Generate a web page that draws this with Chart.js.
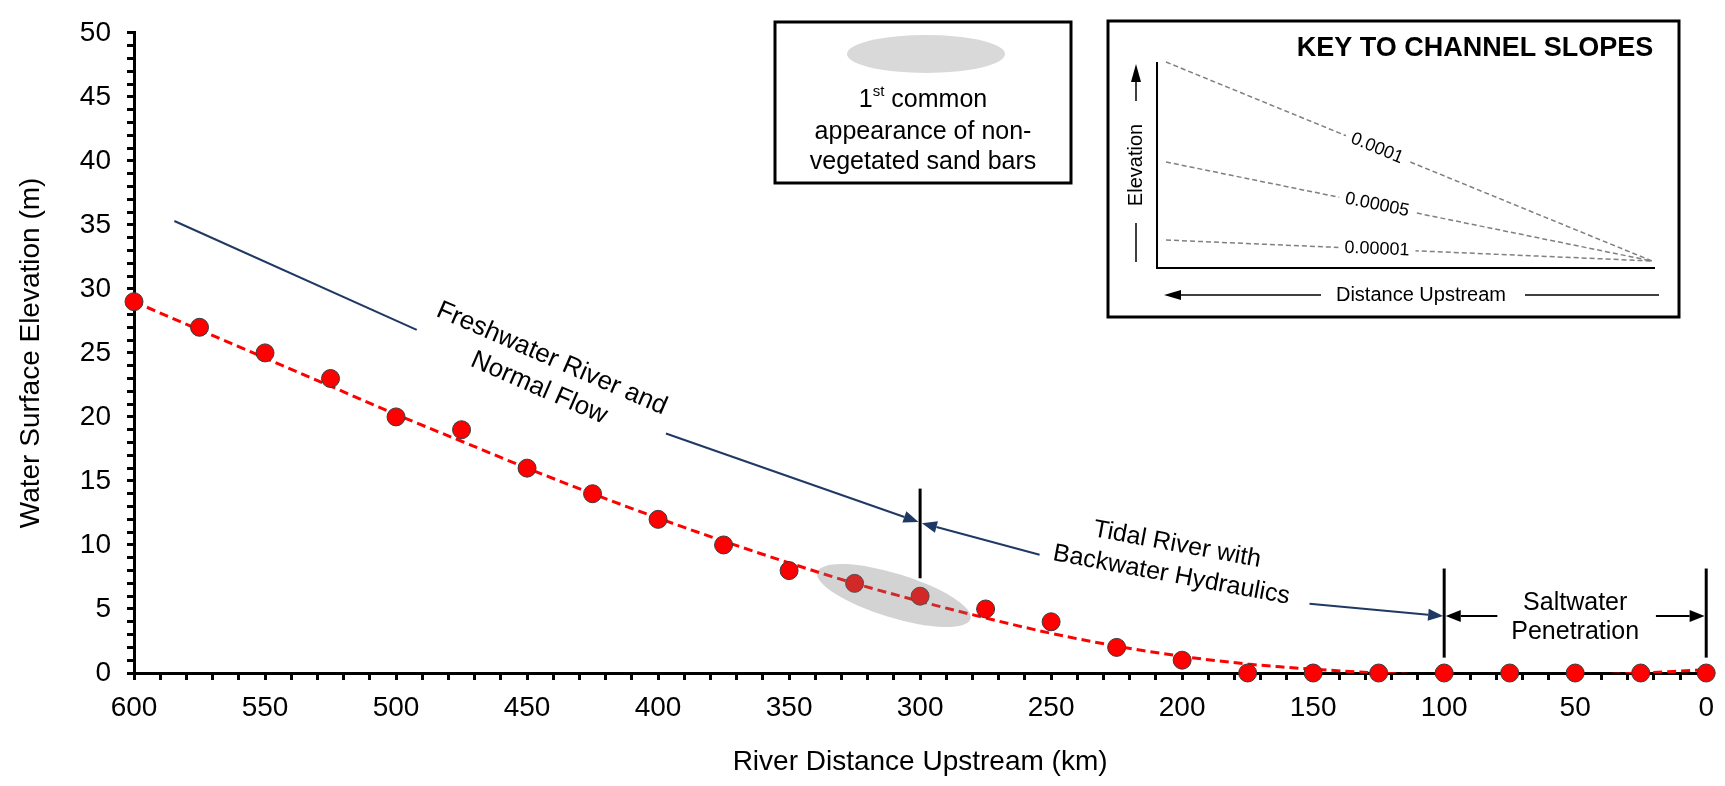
<!DOCTYPE html>
<html>
<head>
<meta charset="utf-8">
<script src="https://cdn.jsdelivr.net/npm/chart.js@4.4.1/dist/chart.umd.min.js"></script>
<style>
  html, body { margin: 0; padding: 0; background: #fff; }
  #wrap { width: 1725px; height: 786px; position: relative; }
</style>
</head>
<body>
<div id="wrap"><canvas id="chart"></canvas></div>
<script>
// values
const distanceKm = [600, 575, 550, 525, 500, 475, 450, 425, 400, 375, 350, 325, 300,
                    275, 250, 225, 200, 175, 150, 125, 100, 75, 50, 25, 0];
const elevationM = [29, 27, 25, 23, 20, 19, 16, 14, 12, 10, 8, 7, 6,
                    5, 4, 2, 1, 0, 0, 0, 0, 0, 0, 0, 0];
// dashed red trend line, read at the same stations
const trendM = [29.0, 26.8, 24.6, 22.4, 20.2, 18.1, 16.0, 14.0, 12.1, 10.3, 8.6, 7.0, 5.6,
                4.3, 3.1, 2.1, 1.3, 0.7, 0.3, 0.0, -0.2, -0.25, -0.2, 0.0, 0.25];
const xTickLabels = [0, 50, 100, 150, 200, 250, 300, 350, 400, 450, 500, 550, 600];
const yTickLabels = [0, 5, 10, 15, 20, 25, 30, 35, 40, 45, 50];

const FONT = "'Liberation Sans', Arial, sans-serif";
const NAVY = '#1F3864';

function arrow(ctx, x1, y1, x2, y2, color, width, headLen, headHalf) {
  const ang = Math.atan2(y2 - y1, x2 - x1);
  const bx = x2 - headLen * Math.cos(ang), by = y2 - headLen * Math.sin(ang);
  ctx.save();
  ctx.strokeStyle = color; ctx.fillStyle = color; ctx.lineWidth = width;
  ctx.beginPath(); ctx.moveTo(x1, y1); ctx.lineTo(bx, by); ctx.stroke();
  ctx.beginPath();
  ctx.moveTo(x2, y2);
  ctx.lineTo(bx + headHalf * Math.sin(ang), by - headHalf * Math.cos(ang));
  ctx.lineTo(bx - headHalf * Math.sin(ang), by + headHalf * Math.cos(ang));
  ctx.closePath(); ctx.fill();
  ctx.restore();
}

function line(ctx, x1, y1, x2, y2, color, width, dash) {
  ctx.save();
  ctx.strokeStyle = color; ctx.lineWidth = width;
  ctx.setLineDash(dash || []);
  ctx.beginPath(); ctx.moveTo(x1, y1); ctx.lineTo(x2, y2); ctx.stroke();
  ctx.restore();
}

function textBlock(ctx, lines, cx, cy, deg, font, lh) {
  ctx.save();
  ctx.translate(cx, cy); ctx.rotate(deg * Math.PI / 180);
  ctx.font = font; ctx.fillStyle = '#000';
  ctx.textAlign = 'center'; ctx.textBaseline = 'middle';
  lines.forEach((t, i) => ctx.fillText(t, 0, (i - (lines.length - 1) / 2) * lh));
  ctx.restore();
}

// notes drawn on the plot, anchored to data values
const riverNotes = {
  id: 'riverNotes',
  afterDatasetsDraw(chart) {
    const { ctx, scales: { x, y } } = chart;
    const X = v => x.getPixelForValue(v), Y = v => y.getPixelForValue(v);

    // sand bar ellipse over the 325/300 km points
    ctx.save();
    ctx.fillStyle = 'rgba(120,120,120,0.33)';
    ctx.beginPath();
    ctx.ellipse(X(310), Y(6.05), 80, 22, 17 * Math.PI / 180, 0, Math.PI * 2);
    ctx.fill();
    ctx.restore();

    // freshwater reach
    line(ctx, X(584.6), Y(35.3), X(492.1), Y(26.8), NAVY, 2);
    arrow(ctx, X(397), Y(18.7), X(300.6), Y(11.8), NAVY, 2, 15, 6);
    textBlock(ctx, ['Freshwater River and', 'Normal Flow'], X(443), Y(23.4), 23.5,
      '26px ' + FONT, 32);

    // boundary at 300 km
    line(ctx, X(300), Y(14.4), X(300), Y(7.4), '#000', 3);

    // tidal reach
    arrow(ctx, X(254.4), Y(9.24), X(299.3), Y(11.7), NAVY, 2, 15, 6);
    textBlock(ctx, ['Tidal River with', 'Backwater Hydraulics'], X(203), Y(8.83), 10.5,
      '25px ' + FONT, 31);
    arrow(ctx, X(151.4), Y(5.4), X(100.4), Y(4.45), NAVY, 2, 15, 6);

    // saltwater reach
    line(ctx, X(100), Y(8.16), X(100), Y(1.2), '#000', 3);
    line(ctx, X(0), Y(8.16), X(0), Y(1.2), '#000', 3);
    arrow(ctx, X(79.7), Y(4.45), X(99.4), Y(4.45), '#000', 2, 15, 6);
    arrow(ctx, X(19.2), Y(4.45), X(0.6), Y(4.45), '#000', 2, 15, 6);
    textBlock(ctx, ['Saltwater', 'Penetration'], X(50), Y(4.34), 0, '25px ' + FONT, 29);
  },
  afterDraw(chart) {
    const ctx = chart.ctx;

    // legend box for the sand bar ellipse
    ctx.save();
    ctx.fillStyle = '#fff';
    ctx.fillRect(775, 22, 296, 161);
    ctx.strokeStyle = '#000'; ctx.lineWidth = 3;
    ctx.strokeRect(775, 22, 296, 161);
    ctx.fillStyle = '#D9D9D9';
    ctx.beginPath(); ctx.ellipse(926, 54, 79, 19, 0, 0, Math.PI * 2); ctx.fill();
    ctx.fillStyle = '#000';
    ctx.textBaseline = 'middle';
    // "1st common" with superscript
    ctx.font = '25px ' + FONT;
    const w1 = ctx.measureText('1').width, w3 = ctx.measureText(' common').width;
    ctx.font = '15px ' + FONT;
    const w2 = ctx.measureText('st').width;
    const sx = 923 - (w1 + w2 + w3) / 2;
    ctx.textAlign = 'left';
    ctx.font = '25px ' + FONT; ctx.fillText('1', sx, 100);
    ctx.font = '15px ' + FONT; ctx.fillText('st', sx + w1, 92);
    ctx.font = '25px ' + FONT; ctx.fillText(' common', sx + w1 + w2, 100);
    ctx.textAlign = 'center';
    ctx.fillText('appearance of non-', 923, 132);
    ctx.fillText('vegetated sand bars', 923, 162);
    ctx.restore();

    // key to channel slopes
    ctx.save();
    ctx.fillStyle = '#fff';
    ctx.fillRect(1108, 21, 571, 296);
    ctx.strokeStyle = '#000'; ctx.lineWidth = 3;
    ctx.strokeRect(1108, 21, 571, 296);
    ctx.fillStyle = '#000';
    ctx.font = 'bold 27px ' + FONT;
    ctx.textAlign = 'center'; ctx.textBaseline = 'middle';
    ctx.fillText('KEY TO CHANNEL SLOPES', 1475, 49);
    ctx.restore();

    line(ctx, 1157, 62, 1157, 269, '#000', 2);
    line(ctx, 1156, 268, 1655, 268, '#000', 2);

    const slopes = [
      { label: '0.0001', y0: 62 },
      { label: '0.00005', y0: 162 },
      { label: '0.00001', y0: 240 }
    ];
    const sx0 = 1166, ex = 1652, ey = 261, lx = 1377;
    slopes.forEach(s => {
      line(ctx, sx0, s.y0, ex, ey, '#808080', 1.5, [5, 3]);
      const t = (lx - sx0) / (ex - sx0);
      const ly = s.y0 + t * (ey - s.y0);
      const ang = Math.atan2(ey - s.y0, ex - sx0);
      ctx.save();
      ctx.translate(lx, ly); ctx.rotate(ang);
      ctx.font = '18px ' + FONT;
      const w = ctx.measureText(s.label).width;
      ctx.fillStyle = '#fff'; ctx.fillRect(-w / 2 - 6, -11, w + 12, 22);
      ctx.fillStyle = '#000'; ctx.textAlign = 'center'; ctx.textBaseline = 'middle';
      ctx.fillText(s.label, 0, 0);
      ctx.restore();
    });

    // elevation arrow
    arrow(ctx, 1136, 101, 1136, 64, '#000', 1.5, 18, 5);
    line(ctx, 1136, 223, 1136, 262, '#000', 1.5);
    textBlock(ctx, ['Elevation'], 1136, 165, -90, '20px ' + FONT, 20);
    // distance arrow
    arrow(ctx, 1321, 295, 1164, 295, '#000', 1.5, 17, 5);
    line(ctx, 1525, 295, 1659, 295, '#000', 1.5);
    textBlock(ctx, ['Distance Upstream'], 1421, 295, 0, '20px ' + FONT, 20);
  }
};

const ctx = document.getElementById('chart').getContext('2d');
new Chart(ctx, {
  type: 'scatter',
  data: {
    datasets: [
      {
        label: 'Water surface',
        data: distanceKm.map((d, i) => ({ x: d, y: elevationM[i] })),
        backgroundColor: '#FF0000',
        borderColor: '#3A3A3A',
        borderWidth: 1,
        pointRadius: 9,
        pointHoverRadius: 9,
        showLine: false,
        clip: false
      },
      {
        label: 'Trend',
        type: 'line',
        data: distanceKm.map((d, i) => ({ x: d, y: trendM[i] })),
        borderColor: '#FF0000',
        borderWidth: 3,
        borderDash: [9, 5],
        pointRadius: 0,
        fill: false,
        tension: 0.35
      }
    ]
  },
  options: {
    responsive: true,
    maintainAspectRatio: false,
    animation: false,
    devicePixelRatio: 1,
    layout: { padding: { top: 22, right: 18, left: 0, bottom: 0 } },
    plugins: { legend: { display: false }, tooltip: { enabled: false } },
    scales: {
      x: {
        type: 'linear',
        reverse: true,
        min: 0, max: 600,
        afterFit: s => { s.height = 113; },
        border: { display: true, color: '#000', width: 3 },
        grid: { drawOnChartArea: false, drawTicks: true, tickLength: 7, color: '#000', lineWidth: 3 },
        ticks: {
          stepSize: 10, autoSkip: false, maxRotation: 0, minRotation: 0,
          padding: 11, color: '#000',
          font: { family: FONT, size: 28 },
          callback: v => xTickLabels.includes(v) ? String(v) : ''
        },
        title: {
          display: true, text: 'River Distance Upstream (km)', color: '#000',
          font: { family: FONT, size: 28 }, padding: { bottom: 7, top: 0 }
        }
      },
      y: {
        min: 0, max: 50,
        afterFit: s => { s.width = 134; },
        border: { display: true, color: '#000', width: 3 },
        grid: { drawOnChartArea: false, drawTicks: true, tickLength: 7, color: '#000', lineWidth: 3 },
        ticks: {
          stepSize: 1, autoSkip: false, padding: 16, color: '#000',
          font: { family: FONT, size: 28 },
          callback: v => yTickLabels.includes(v) ? String(v) : ''
        },
        title: {
          display: true, text: 'Water Surface Elevation (m)', color: '#000',
          font: { family: FONT, size: 28 }, padding: { top: 14, bottom: 0 }
        }
      }
    }
  },
  plugins: [riverNotes]
});
</script>
</body>
</html>
